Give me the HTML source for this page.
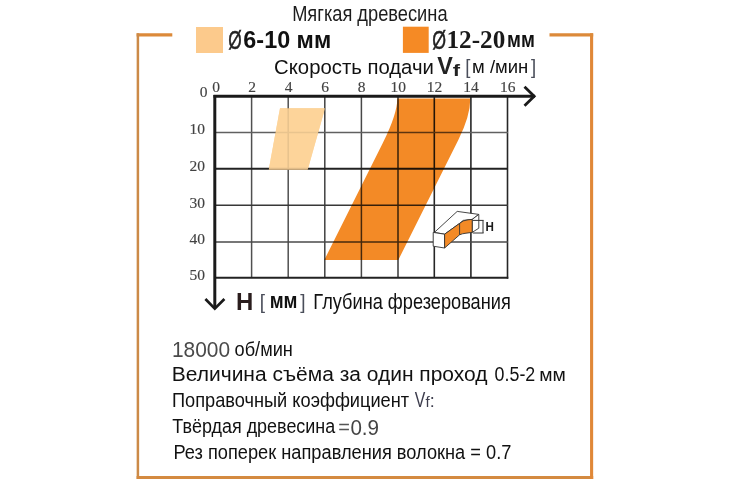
<!DOCTYPE html>
<html><head><meta charset="utf-8">
<style>
html,body{margin:0;padding:0;background:#fff;}
body{width:730px;height:500px;overflow:hidden;position:relative;}
svg{position:absolute;left:0;top:0;}
svg{font-family:"Liberation Sans",sans-serif;}
</style></head><body>
<svg width="730" height="500" viewBox="0 0 730 500">
<g fill="none" stroke-linecap="butt">
<line x1="136.6" y1="34.9" x2="172.3" y2="34.9" stroke="#dc8a3a" stroke-width="3.2"/>
<line x1="137.9" y1="33.3" x2="137.9" y2="479" stroke="#cc8a48" stroke-width="2.5"/>
<line x1="136.6" y1="477.5" x2="593.2" y2="477.5" stroke="#d48a40" stroke-width="3"/>
<line x1="591.6" y1="33.3" x2="591.6" y2="479" stroke="#e08838" stroke-width="3.1"/>
<line x1="549.5" y1="34.9" x2="593.2" y2="34.9" stroke="#dc8a3a" stroke-width="3.2"/>
</g>
<rect x="196" y="27" width="27" height="26" fill="#fcca8c"/>
<rect x="402.9" y="26.7" width="25.8" height="26.2" fill="#f58a25"/>

<polygon points="280,108.2 325,108.2 307.7,169.7 268.75,169.7" fill="#fdd49a"/>
<path d="M397.3,98.5 L470.3,98.5 Q470.3,116 458.3,140 L398.3,260 L324.3,260 L382.8,143 Q397.3,114 397.3,98.5 Z" fill="#f38a26"/>

<g stroke="#363636" stroke-width="1.5" style="mix-blend-mode:multiply">
<line x1="251.6" y1="96.5" x2="251.6" y2="278" stroke="#505050"/>
<line x1="288.2" y1="96.5" x2="288.2" y2="278" stroke="#505050"/>
<line x1="324.8" y1="96.5" x2="324.8" y2="278" stroke="#404040"/>
<line x1="361.4" y1="96.5" x2="361.4" y2="278" stroke="#484848"/>
<line x1="398" y1="96.5" x2="398" y2="278" stroke="#383838"/>
<line x1="434.3" y1="96.5" x2="434.3" y2="278" stroke="#262626" stroke-width="1.6"/>
<line x1="470.9" y1="96.5" x2="470.9" y2="278" stroke="#262626" stroke-width="1.6"/>
<line x1="507.5" y1="96.5" x2="507.5" y2="278.7" stroke="#262626" stroke-width="1.6"/>
<line x1="214" y1="132.4" x2="508" y2="132.4" stroke="#606060"/>
<line x1="214" y1="168.8" x2="508" y2="168.8" stroke="#222" stroke-width="2.1"/>
<line x1="214" y1="205.3" x2="508" y2="205.3" stroke="#383838"/>
<line x1="214" y1="242.1" x2="508" y2="242.1" stroke="#4a4a4a"/>
<line x1="214" y1="277.8" x2="508.3" y2="277.8" stroke="#222" stroke-width="2.1"/>
</g>
<polygon points="280,108.2 325,108.2 307.7,169.7 268.75,169.7" fill="#fdd49a" opacity="0.88"/>

<g stroke="#1a1a1a" stroke-width="3" fill="none">
<line x1="213.5" y1="96.3" x2="535" y2="96.3"/>
<polyline points="524.5,86.8 534.2,96.3 524.5,105.8" stroke-width="2.8"/>
<line x1="214.8" y1="95" x2="214.8" y2="308"/>
<polyline points="205.4,299 214.8,308.6 224.4,299" stroke-width="2.7"/>
</g>

<g font-size="15.5" font-family="Liberation Serif" fill="#424242" stroke="#424242" stroke-width="0.15" text-anchor="middle">
<text x="216" y="92.4">0</text>
<text x="252" y="92.4">2</text>
<text x="288.5" y="92.4">4</text>
<text x="325" y="92.4">6</text>
<text x="361.6" y="92.4">8</text>
<text x="398.2" y="92.4">10</text>
<text x="434.5" y="92.4">12</text>
<text x="471.1" y="92.4">14</text>
<text x="507.8" y="92.4">16</text>
</g>
<g font-size="15.5" font-family="Liberation Serif" fill="#424242" stroke="#424242" stroke-width="0.15" text-anchor="end">
<text x="207.5" y="97.2">0</text>
<text x="205" y="134.2">10</text>
<text x="205" y="170.8">20</text>
<text x="205" y="207.6">30</text>
<text x="205" y="243.6">40</text>
<text x="205" y="279.6">50</text>
</g>

<g stroke="#333" stroke-width="0.9" stroke-linejoin="round">
<polygon points="434.4,232.4 457.2,211.4 478.8,214.4 472.2,219.4 463.2,220.4 459.6,223.4 444.6,234.2" fill="#fff"/>
<polygon points="472.2,219.4 478.8,214.4 478.8,228.2 472.2,232.4" fill="#fff"/>
<polygon points="433.2,232.4 444.6,234.2 444.6,248 433.2,246.2" fill="#fff"/>
<path d="M444.6,234.2 L459.6,223.4 Q463,220.2 468,219.8 L472.2,219.4 L472.2,232.4 L466,233.2 Q462,233.6 459.6,234.8 L444.6,248 Z" fill="#f38a26"/>
<line x1="459.6" y1="223.4" x2="459.6" y2="234.8"/>
</g>
<g stroke="#333" stroke-width="1" fill="none">
<line x1="472.8" y1="220.4" x2="483.6" y2="220.4"/>
<line x1="472.8" y1="233" x2="483.6" y2="233"/>
<line x1="483" y1="220.4" x2="483" y2="233"/>
</g>
<text x="485.6" y="231.2" font-size="12" font-weight="bold" fill="#1a1a1a" textLength="8.4" lengthAdjust="spacingAndGlyphs">H</text>

<text x="292.14" y="20.5" font-size="21.45" fill="#1c1c1c" textLength="155.42" lengthAdjust="spacingAndGlyphs">Мягкая древесина</text>
<text x="228.21" y="49.19" font-size="25.61" fill="#222" stroke="#222" stroke-width="0.5" textLength="13.45" lengthAdjust="spacingAndGlyphs">Ø</text>
<text x="243.37" y="48.0" font-size="23.77" font-weight="bold" fill="#111" textLength="87.85" lengthAdjust="spacingAndGlyphs">6-10 мм</text>
<text x="432.19" y="48.69" font-size="25.54" fill="#222" stroke="#222" stroke-width="0.5" textLength="13.78" lengthAdjust="spacingAndGlyphs">Ø</text>
<text x="446.48" y="48.0" font-size="25.45" font-family="Liberation Serif" font-weight="bold" fill="#1a1a1a" textLength="58.8" lengthAdjust="spacingAndGlyphs">12-20</text>
<text x="506.98" y="47.4" font-size="22.08" font-weight="bold" fill="#111" textLength="27.82" lengthAdjust="spacingAndGlyphs">мм</text>
<text x="274.08" y="74.0" font-size="20.28" fill="#111" textLength="159.82" lengthAdjust="spacingAndGlyphs">Скорость подачи</text>
<text x="437.17" y="73.8" font-size="23.91" font-weight="bold" fill="#222" textLength="15.6" lengthAdjust="spacingAndGlyphs">V</text>
<text x="452.66" y="76.0" font-size="16.85" font-weight="bold" fill="#222" textLength="7.31" lengthAdjust="spacingAndGlyphs">f</text>
<text x="465.3" y="73.63" font-size="20.32" fill="#4a4e5a" textLength="5.14" lengthAdjust="spacingAndGlyphs">[</text>
<text x="472.11" y="73.0" font-size="17.55" fill="#111" textLength="56.22" lengthAdjust="spacingAndGlyphs">м /мин</text>
<text x="531.0" y="73.63" font-size="20.32" fill="#4a4e5a" textLength="5.14" lengthAdjust="spacingAndGlyphs">]</text>
<text x="236.12" y="309.5" font-size="23.04" font-weight="bold" fill="#2a1d1d" textLength="17.31" lengthAdjust="spacingAndGlyphs">H</text>
<text x="259.87" y="309.32" font-size="20.85" fill="#4a4e5a" textLength="5.28" lengthAdjust="spacingAndGlyphs">[</text>
<text x="269.68" y="308.1" font-size="21.7" font-weight="bold" fill="#111" textLength="27.82" lengthAdjust="spacingAndGlyphs">мм</text>
<text x="300.2" y="309.32" font-size="20.85" fill="#4a4e5a" textLength="5.28" lengthAdjust="spacingAndGlyphs">]</text>
<text x="313.35" y="308.8" font-size="21.45" fill="#111" textLength="197.42" lengthAdjust="spacingAndGlyphs">Глубина фрезерования</text>
<text x="171.93" y="356.8" font-size="22.9" fill="#4a4a4a" textLength="58.14" lengthAdjust="spacingAndGlyphs">18000</text>
<text x="234.57" y="355.6" font-size="19.73" fill="#111" textLength="58.31" lengthAdjust="spacingAndGlyphs">об/мин</text>
<text x="171.82" y="380.5" font-size="19.57" fill="#111" textLength="315.66" lengthAdjust="spacingAndGlyphs">Величина съёма за один проход</text>
<text x="494.59" y="381.01" font-size="19.3" fill="#111" textLength="40.7" lengthAdjust="spacingAndGlyphs">0.5-2</text>
<text x="539.15" y="380.9" font-size="17.55" fill="#111" textLength="26.61" lengthAdjust="spacingAndGlyphs">мм</text>
<text x="172.04" y="406.5" font-size="20.29" fill="#111" textLength="237.09" lengthAdjust="spacingAndGlyphs">Поправочный коэффициент</text>
<text x="414.74" y="407.2" font-size="22.03" fill="#3d3d4d" textLength="10.57" lengthAdjust="spacingAndGlyphs">V</text>
<text x="425.45" y="407.34" font-size="13.75" fill="#3d3d4d" textLength="4.22" lengthAdjust="spacingAndGlyphs">f</text>
<text x="429.8" y="407.2" font-size="18" fill="#3d3d4d" textLength="5.0" lengthAdjust="spacingAndGlyphs">:</text>
<text x="172.34" y="432.9" font-size="20.72" fill="#111" textLength="162.88" lengthAdjust="spacingAndGlyphs">Твёрдая древесина</text>
<text x="338.2" y="434.3" font-size="20" fill="#555" textLength="11.68" lengthAdjust="spacingAndGlyphs">=</text>
<text x="350.38" y="434.78" font-size="22.25" fill="#444" textLength="28.66" lengthAdjust="spacingAndGlyphs">0.9</text>
<text x="173.44" y="458.8" font-size="20.0" fill="#111" textLength="337.93" lengthAdjust="spacingAndGlyphs">Рез поперек направления волокна = 0.7</text>
</svg>
</body></html>
